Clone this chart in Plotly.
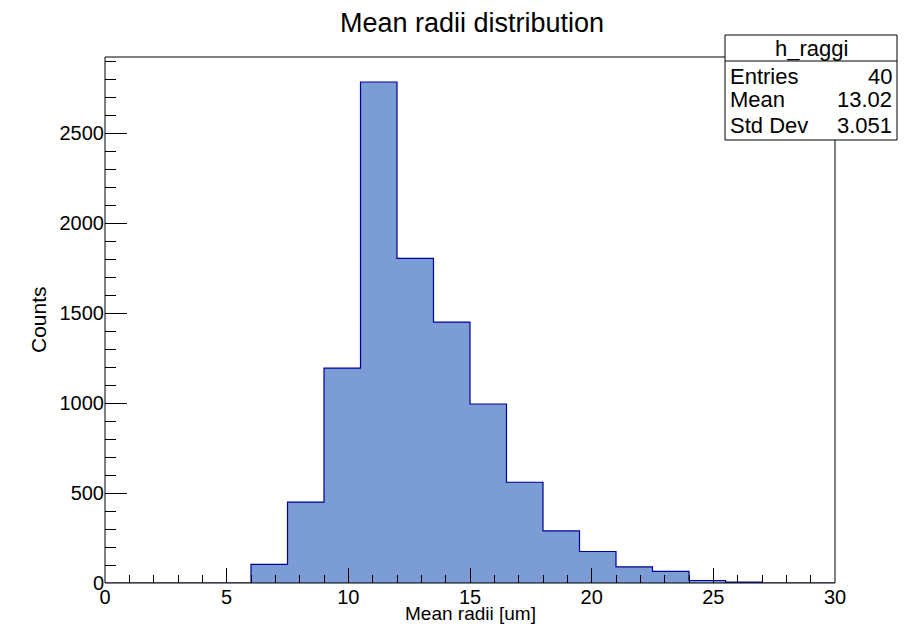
import plotly.graph_objects as go

bin_edges = [0, 1.5, 3, 4.5, 6, 7.5, 9, 10.5, 12, 13.5, 15, 16.5, 18, 19.5, 21, 22.5, 24, 25.5, 27, 28.5, 30]
counts = [0, 0, 0, 0, 104, 450, 1195, 2785, 1805, 1450, 995, 560, 290, 175, 90, 65, 14, 5, 0, 0]
stats_labels = ["Entries", "Mean", "Std Dev"]
stats_values = ["40", "13.02", "3.051"]
hist_name = "h_raggi"

centers = [(bin_edges[i] + bin_edges[i + 1]) / 2 for i in range(len(counts))]
widths = [bin_edges[i + 1] - bin_edges[i] for i in range(len(counts))]

FONT = "Liberation Sans, Arial, Helvetica, sans-serif"
fig = go.Figure()
fig.add_trace(go.Bar(x=centers, y=counts, width=widths,
                     marker=dict(color="#7b9cd4", line=dict(width=0)),
                     hoverinfo="x+y", showlegend=False))
fig.add_trace(go.Scatter(x=bin_edges, y=counts + [counts[-1]], mode="lines",
                         line=dict(shape="hv", color="#000099", width=1.2),
                         hoverinfo="skip", showlegend=False))

# page is rendered with an 8px body margin
OFF = 8
W, H = 914 - 2 * OFF, 633 - 2 * OFF
PL, PR, PT, PB = 105, 835, 57, 583  # plot area in page pixels
L, R, T, B = PL - OFF, W - (PR - OFF), PT - OFF, H - (PB - OFF)
pw, ph = PR - PL, PB - PT
def px(x):
    return (x - PL) / pw
def py(y):
    return (PB - y) / ph

BX0, BX1, BY0, BY1, BYL = 725, 897, 35, 140, 61
shapes = [
    dict(type="rect", xref="paper", yref="paper", x0=0, x1=1, y0=0, y1=1,
         line=dict(color="black", width=1), fillcolor="rgba(0,0,0,0)", layer="above"),
    dict(type="rect", xref="paper", yref="paper", x0=px(BX0), x1=px(BX1), y0=py(BY1), y1=py(BY0),
         line=dict(color="black", width=1), fillcolor="white", layer="above"),
    dict(type="line", xref="paper", yref="paper", x0=px(BX0), x1=px(BX1), y0=py(BYL), y1=py(BYL),
         line=dict(color="black", width=1), layer="above"),
]
SF = 22
annotations = [
    dict(text=hist_name, xref="paper", yref="paper", x=px((BX0 + BX1) / 2), y=py(48), showarrow=False,
         xanchor="center", yanchor="middle", font=dict(size=SF, color="black", family=FONT)),
]
row_y = [76, 100, 125]
for lab, val, yy in zip(stats_labels, stats_values, row_y):
    annotations.append(dict(text=lab, xref="paper", yref="paper", x=px(BX0 + 3), y=py(yy), showarrow=False,
                            xanchor="left", yanchor="middle", font=dict(size=SF, color="black", family=FONT)))
    annotations.append(dict(text=val, xref="paper", yref="paper", x=px(BX1 - 3), y=py(yy), showarrow=False,
                            xanchor="right", yanchor="middle", font=dict(size=SF, color="black", family=FONT)))
annotations.append(dict(text="Mean radii [um]", xref="paper", yref="paper", x=0.5, y=py(613), showarrow=False,
                        xanchor="center", yanchor="middle", font=dict(size=19, color="black", family=FONT)))
annotations.append(dict(text="Counts", xref="paper", yref="paper", x=px(38), y=0.5, showarrow=False,
                        textangle=-90, xanchor="center", yanchor="middle", font=dict(size=21, color="black", family=FONT)))
annotations.append(dict(text="Mean radii distribution", xref="paper", yref="paper", x=px(472), y=py(23), showarrow=False,
                        xanchor="center", yanchor="middle", font=dict(size=27, color="black", family=FONT)))

fig.update_layout(
    width=W, height=H,
    margin=dict(l=L, r=R, t=T, b=B, autoexpand=False),
    paper_bgcolor="white", plot_bgcolor="white",
    bargap=0,
    font=dict(family=FONT, color="black", size=20),
    shapes=shapes, annotations=annotations,
    xaxis=dict(range=[0, 30], tickmode="linear", tick0=0, dtick=5, ticks="inside", ticklen=15,
               tickcolor="black", showgrid=False, zeroline=False, showline=False,
               tickfont=dict(size=20),
               minor=dict(ticks="inside", ticklen=8, dtick=1, tickcolor="black", showgrid=False)),
    yaxis=dict(range=[0, 2924], tickmode="linear", tick0=0, dtick=500, ticks="inside", ticklen=22,
               tickcolor="black", showgrid=False, zeroline=False, showline=False,
               tickfont=dict(size=20),
               minor=dict(ticks="inside", ticklen=11, dtick=100, tickcolor="black", showgrid=False)),
)

fig.write_html("out.html")
